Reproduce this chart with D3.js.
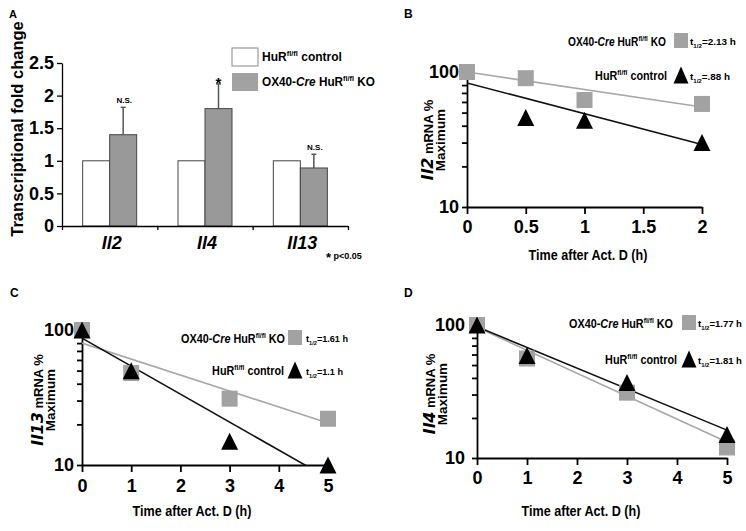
<!DOCTYPE html>
<html><head><meta charset="utf-8">
<script src="https://cdn.jsdelivr.net/npm/d3@7"></script>
<style>body{margin:0;background:#fff} svg{display:block} text{font-family:"Liberation Sans",Arial,sans-serif;fill:#000}</style>
</head><body><svg id="c" width="746" height="531"></svg>
<script>
// ---------- DATA ----------
const barCategories = ["Il2", "Il4", "Il13"];
const barControl = [1, 1, 1];
const barKO = [1.4, 1.8, 0.89];
const barKOErr = [0.42, 0.38, 0.21];
const barSig = ["N.S.", "*", "N.S."];
const barTicks = [0, 0.5, 1, 1.5, 2, 2.5];
const barTickLabels = ["0", "0.5", "1", "1.5", "2", "2.5"];
const barSeries = ["HuR control", "OX40-Cre HuR KO"];

const il2Times = [0, 0.5, 1, 2];
const il2KO = [100, 90, 62, 58];
const il2Ctrl = [null, 46, 44, 30];
const il2FitKO = [100, 55];      // fitted line at t=0 and t=2
const il2FitCtrl = [83, 29];
const il2XTicks = [0, 0.5, 1, 1.5, 2];
const il2XTickLabels = ["0", "0.5", "1", "1.5", "2"];

const cdTimes = [0, 1, 3, 5];
const il13KO = [100, 48, 31, 22];
const il13Ctrl = [100, 50, 15, 10];
const il13FitKO = [80, 20.5];    // fitted line at t=0 and t=5
const il13FitCtrl = [87, 8];
const il4KO = [100, 56, 31, 12];
const il4Ctrl = [100, 59, 37, 15];
const il4FitKO = [96, 13.2];
const il4FitCtrl = [97, 16.2];
const cdXTicks = [0, 1, 2, 3, 4, 5];
const cdXTickLabels = ["0", "1", "2", "3", "4", "5"];

const logTicks = [10, 20, 30, 40, 50, 60, 70, 80, 90, 100];
const logTickLabels = {10: "10", 100: "100"};
const halfKO = ["2.13", "1.61", "1.77"];
const halfCtrl = [".88", "1.1", "1.81"];
const xTitle = "Time after Act. D (h)";

// ---------- HELPERS ----------
const svg = d3.select("#c");
const ITAL = '"DejaVu Sans", Verdana, sans-serif';
const GREY = "#a2a2a2";

// text with tspans; optionally squeezed horizontally to a target width
function richText(parent, x, y, segs, size, anchor, len) {
  const g = parent.append("g").attr("transform", `translate(${x},${y})`);
  const t = g.append("text").attr("x", 0).attr("y", 0)
    .attr("font-size", size).attr("font-weight", "bold")
    .attr("text-anchor", anchor || "start");
  let shift = 0;
  segs.forEach(s => {
    const sp = t.append("tspan").text(s.t);
    const target = s.sup ? -0.38 * size : s.sub ? 0.28 * size : 0;
    if (target !== shift) { sp.attr("dy", target - shift); shift = target; }
    if (s.sup || s.sub) sp.attr("font-size", size * 0.62);
    if (s.i) sp.attr("font-style", "italic");
    if (s.f) sp.attr("font-family", s.f);
    if (s.fs) sp.attr("font-size", s.fs);
  });
  if (len) {
    const w = t.node().getComputedTextLength();
    if (w > 0) g.attr("transform", `translate(${x},${y}) scale(${len / w},1)`);
  }
  return t;
}
const koSegs = [{t: "OX40-"}, {t: "Cre", i: true}, {t: " HuR"}, {t: "fl/fl", sup: true}, {t: " KO"}];
const ctrlSegs = [{t: "HuR"}, {t: "fl/fl", sup: true}, {t: " control"}];
const halfSegs = v => [{t: "t"}, {t: "1/2", sub: true}, {t: "=" + v + " h"}];

function tri(w, h) { return `M0,${-h/2}L${w/2},${h/2}L${-w/2},${h/2}Z`; }

function styleAxis(sel, w) {
  sel.select(".domain").attr("stroke", "#000").attr("stroke-width", w);
  sel.selectAll(".tick line").attr("stroke", "#000").attr("stroke-width", w);
}

// ---------- PANEL A ----------
(function () {
  const g = svg.append("g");
  const x = d3.scaleBand().domain(barCategories).range([62, 348]);
  const xi = d3.scaleBand().domain(barSeries).range([0, x.bandwidth()]).paddingOuter(0.765);
  const xb = d3.scaleLinear().domain([0, barCategories.length]).range(x.range());
  const y = d3.scaleLinear().domain([0, 2.5]).range([226, 63]);

  barCategories.forEach((c, i) => {
    g.append("rect").attr("x", x(c) + xi(barSeries[0])).attr("y", y(barControl[i]))
      .attr("width", xi.bandwidth()).attr("height", y(0) - y(barControl[i]))
      .attr("fill", "#fff").attr("stroke", "#444").attr("stroke-width", 1);
    const cx = x(c) + xi(barSeries[1]);
    g.append("rect").attr("x", cx).attr("y", y(barKO[i]))
      .attr("width", xi.bandwidth()).attr("height", y(0) - y(barKO[i]))
      .attr("fill", "#999").attr("stroke", "#444").attr("stroke-width", 1);
    const ex = cx + xi.bandwidth() / 2, top = y(barKO[i] + barKOErr[i]);
    g.append("line").attr("x1", ex).attr("x2", ex).attr("y1", y(barKO[i])).attr("y2", top)
      .attr("stroke", "#555").attr("stroke-width", 1.5);
    g.append("line").attr("x1", ex - 2.5).attr("x2", ex + 2.5).attr("y1", top).attr("y2", top)
      .attr("stroke", "#555").attr("stroke-width", 1.5);
    if (barSig[i] === "*") {
      g.append("text").attr("x", ex).attr("y", top + 4).attr("text-anchor", "middle")
        .attr("font-size", 15).attr("font-weight", "bold").text("*");
    } else {
      g.append("text").attr("x", ex + 1).attr("y", top - 4).attr("text-anchor", "middle")
        .attr("font-size", 8).attr("font-weight", "bold").text(barSig[i]);
    }
  });

  const ya = g.append("g").attr("transform", "translate(62,0)")
    .call(d3.axisLeft(y).tickValues(barTicks).tickSize(5).tickSizeOuter(0).tickPadding(3)
      .tickFormat((d, i) => barTickLabels[i]));
  styleAxis(ya, 1.3);
  ya.selectAll(".tick text").attr("font-size", 18).attr("font-weight", "bold")
    .attr("font-family", '"Liberation Sans", Arial, sans-serif').attr("fill", "#000");
  const xa = g.append("g").attr("transform", "translate(0,226)")
    .call(d3.axisBottom(xb).tickValues(d3.range(barCategories.length + 1)).tickSize(4).tickSizeOuter(0).tickFormat(""));
  styleAxis(xa, 1.3);
  const xl = g.append("g").attr("transform", "translate(0,226)")
    .call(d3.axisBottom(x).tickSize(0).tickPadding(6));
  xl.select(".domain").remove();
  xl.selectAll(".tick text").attr("font-size", 18).attr("font-weight", "bold").attr("font-style", "italic")
    .attr("font-family", ITAL).attr("fill", "#000").attr("dy", "0.95em").attr("dx", 2);

  g.append("text").attr("transform", "translate(23,129) rotate(-90)").attr("text-anchor", "middle")
    .attr("font-size", 16.5).attr("font-weight", "bold").text("Transcriptional fold change");

  g.append("rect").attr("x", 232).attr("y", 48).attr("width", 26).attr("height", 18)
    .attr("fill", "#fff").attr("stroke", "#888").attr("stroke-width", 1);
  g.append("rect").attr("x", 232).attr("y", 73).attr("width", 26).attr("height", 18)
    .attr("fill", GREY);
  richText(g, 262, 61, ctrlSegs, 12, "start", 80);
  richText(g, 262, 86, koSegs, 12, "start", 113);

  const p = g.append("text").attr("x", 326).attr("y", 259).attr("font-size", 9).attr("font-weight", "bold");
  p.append("tspan").attr("font-size", 13).attr("dy", 3).text("*");
  p.append("tspan").attr("dy", -3).text(" p<0.05");

  g.append("text").attr("x", 9).attr("y", 18).attr("font-size", 11).attr("font-weight", "bold").text("A");
})();

// ---------- DECAY PANELS ----------
function decay(cfg) {
  const g = svg.append("g");
  const x = d3.scaleLinear().domain([cfg.xTicks[0], cfg.xTicks[cfg.xTicks.length - 1]]).range(cfg.xRange);
  const y = d3.scaleLog().domain([10, 100]).range(cfg.yRange);
  const [x0, x1] = cfg.xRange, [y0, y1] = cfg.yRange;

  const ya = g.append("g").attr("transform", `translate(${x0},0)`)
    .call(d3.axisLeft(y).tickValues(logTicks).tickSize(5).tickSizeOuter(0).tickPadding(cfg.yPad)
      .tickFormat(d => logTickLabels[d] || ""));
  styleAxis(ya, 1.8);
  ya.selectAll(".tick text").attr("font-size", 18).attr("font-weight", "bold")
    .attr("font-family", '"Liberation Sans", Arial, sans-serif').attr("fill", "#000");
  const xa = g.append("g").attr("transform", `translate(0,${y0})`)
    .call(d3.axisBottom(x).tickValues(cfg.xTicks).tickSize(7).tickSizeOuter(0).tickPadding(cfg.xPad)
      .tickFormat((d, i) => cfg.xTickLabels[i]));
  styleAxis(xa, 1.8);
  xa.selectAll(".tick text").attr("font-size", 18).attr("font-weight", "bold")
    .attr("font-family", '"Liberation Sans", Arial, sans-serif').attr("fill", "#000");

  const cid = "clip" + cfg.id;
  g.append("clipPath").attr("id", cid).append("rect")
    .attr("x", x0).attr("y", y1 - 5).attr("width", x1 - x0 + 2).attr("height", y0 - y1 + 5);
  const tEnds = x.domain();
  const line = d3.line().x(d => x(d[0])).y(d => y(d[1]));
  g.append("path").attr("clip-path", `url(#${cid})`)
    .attr("d", line(tEnds.map((t, i) => [t, cfg.fitKO[i]])))
    .attr("fill", "none").attr("stroke", "#a8a8a8").attr("stroke-width", 1.6);
  g.append("path").attr("clip-path", `url(#${cid})`)
    .attr("d", line(tEnds.map((t, i) => [t, cfg.fitCtrl[i]])))
    .attr("fill", "none").attr("stroke", "#111").attr("stroke-width", 1.6);

  const S = 16;
  cfg.times.forEach((t, i) => {
    if (cfg.ko[i] == null) return;
    g.append("rect").attr("x", x(t) - S / 2).attr("y", y(cfg.ko[i]) - S / 2)
      .attr("width", S).attr("height", S).attr("fill", GREY);
  });
  cfg.times.forEach((t, i) => {
    if (cfg.ctrl[i] == null) return;
    g.append("path").attr("transform", `translate(${x(t)},${y(cfg.ctrl[i])})`)
      .attr("d", tri(17, 17)).attr("fill", "#000");
  });

  const L = cfg.legend;
  richText(g, L.koX, L.koY, koSegs, 12, "end", L.koW);
  g.append("rect").attr("x", L.sqX).attr("y", L.koY - 13).attr("width", 14).attr("height", 15).attr("fill", GREY);
  richText(g, L.tX, L.koY - 1, halfSegs(cfg.halfKO), 9, "start", L.tW);
  richText(g, L.ctX, L.ctY, ctrlSegs, 12, "end", L.ctW);
  g.append("path").attr("transform", `translate(${L.sqX + 7},${L.ctY - 5})`).attr("d", tri(15, 17)).attr("fill", "#000");
  richText(g, L.tX, L.ctY, halfSegs(cfg.halfCtrl), 9, "start", L.tW2);

  const yt = g.append("g").attr("transform", `translate(${cfg.yt[0]},${cfg.yt[1]}) rotate(-90)`);
  richText(yt, 0, 0, [{t: cfg.gene, i: true, f: ITAL, fs: 16}, {t: " mRNA %"}], 13, "middle");
  richText(yt, 0, cfg.yt[2], [{t: "Maximum"}], 13.5, "middle");

  richText(g, cfg.xt[0], cfg.xt[1], [{t: xTitle}], 14, "middle", 119);

  g.append("text").attr("x", cfg.lab[0]).attr("y", cfg.lab[1]).attr("font-size", 12)
    .attr("font-weight", "bold").text(cfg.id);
}

decay({
  id: "B", gene: "Il2", times: il2Times, ko: il2KO, ctrl: il2Ctrl, fitKO: il2FitKO, fitCtrl: il2FitCtrl,
  xTicks: il2XTicks, xTickLabels: il2XTickLabels, xRange: [467, 702], yRange: [207, 72], yPad: 3, xPad: 6,
  halfKO: halfKO[0], halfCtrl: halfCtrl[0],
  legend: {koX: 666, koY: 46, koW: 98, sqX: 674, tX: 690, tW: 46, ctX: 667, ctY: 80, ctW: 72, tW2: 40},
  yt: [433, 140, 12], xt: [588, 260], lab: [404, 18]
});
decay({
  id: "C", gene: "Il13", times: cdTimes, ko: il13KO, ctrl: il13Ctrl, fitKO: il13FitKO, fitCtrl: il13FitCtrl,
  xTicks: cdXTicks, xTickLabels: cdXTickLabels, xRange: [82, 328], yRange: [465, 330], yPad: 3, xPad: 7,
  halfKO: halfKO[1], halfCtrl: halfCtrl[1],
  legend: {koX: 285, koY: 343, koW: 104, sqX: 288, tX: 306, tW: 42, ctX: 284, ctY: 375, ctW: 72, tW2: 37},
  yt: [43, 400, 12], xt: [192, 516], lab: [10, 297]
});
decay({
  id: "D", gene: "Il4", times: cdTimes, ko: il4KO, ctrl: il4Ctrl, fitKO: il4FitKO, fitCtrl: il4FitCtrl,
  xTicks: cdXTicks, xTickLabels: cdXTickLabels, xRange: [477, 727], yRange: [458, 325], yPad: 7, xPad: 6,
  halfKO: halfKO[2], halfCtrl: halfCtrl[2],
  legend: {koX: 673, koY: 328, koW: 104, sqX: 682, tX: 698, tW: 44, ctX: 677, ctY: 364, ctW: 72, tW2: 44},
  yt: [435, 394, 12], xt: [581, 516], lab: [404, 297]
});
</script></body></html>
